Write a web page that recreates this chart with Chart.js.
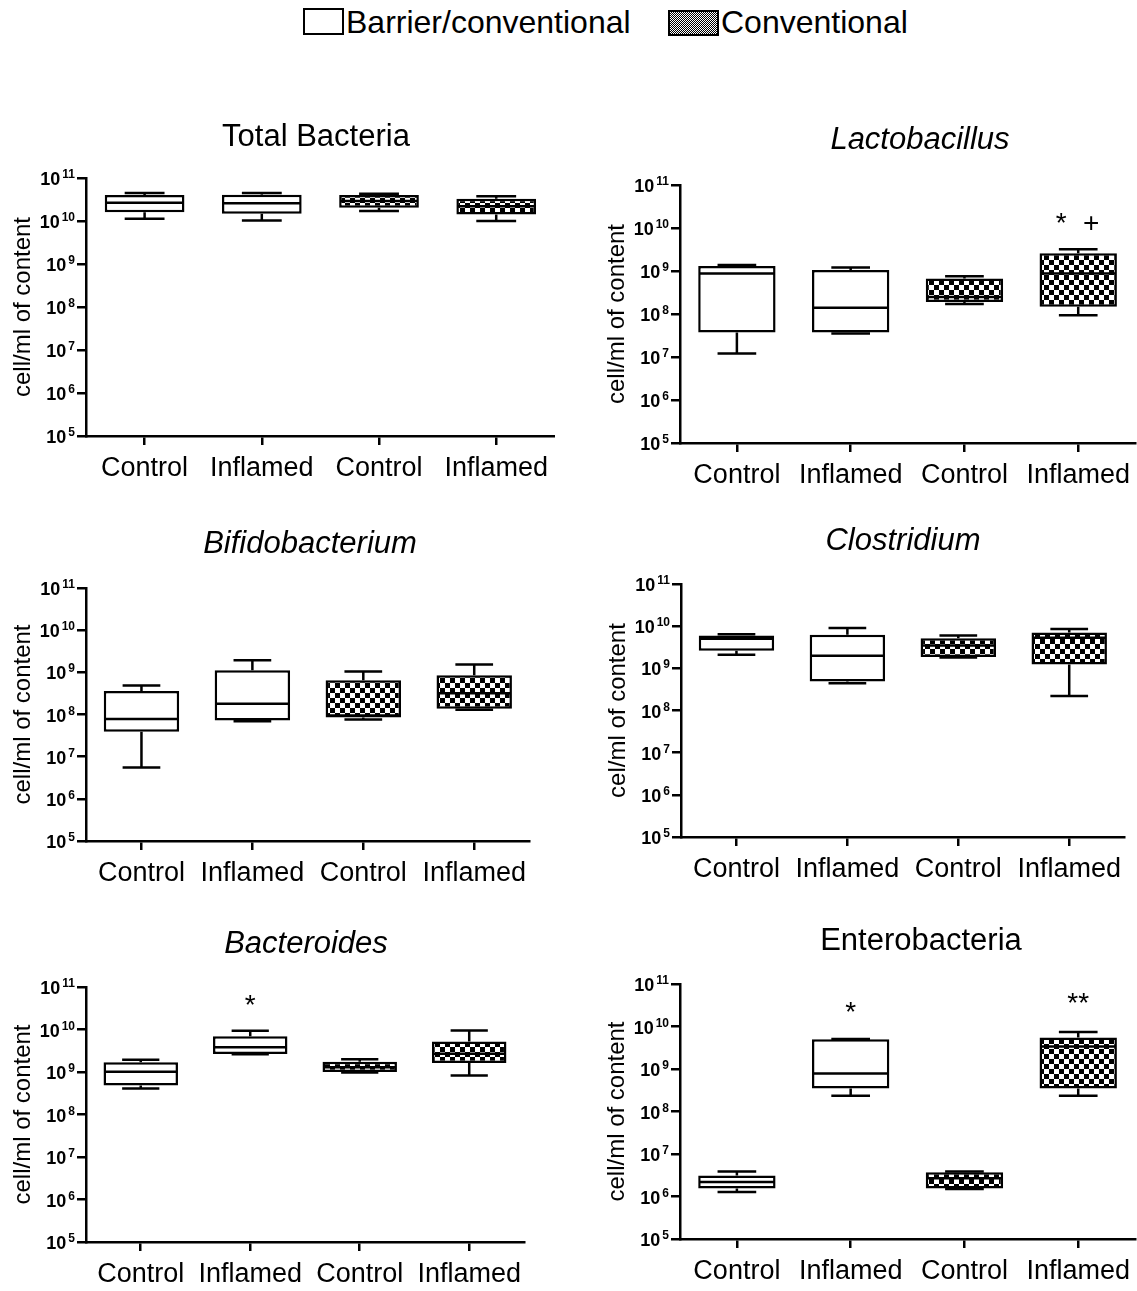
<!DOCTYPE html>
<html>
<head>
<meta charset="utf-8">
<title>Bacterial counts in colonic content</title>
<script src="https://cdn.jsdelivr.net/npm/chart.js@4.4.1/dist/chart.umd.min.js"></script>
<style>
  html, body { margin: 0; padding: 0; background: #fff; overflow: hidden; }
  #page { position: relative; width: 1137px; height: 1291px; overflow: hidden;
          font-family: "Liberation Sans", Arial, sans-serif; color: #000; }
  .panel { position: absolute; }
  .legend-box { position: absolute; box-sizing: border-box; border: 2px solid #000; background: #fff; }
  .legend-box.conv { background: repeating-conic-gradient(#000 0 25%, #fff 0 50%) 0 0 / 2px 2px; }
  .legend-text { position: absolute; font-size: 32px; line-height: 32px; white-space: nowrap; }
</style>
</head>
<body>
<div id="page">
  <div class="legend-box" style="left:303px; top:8px; width:41px; height:27px;"></div>
  <div class="legend-text" style="left:346px; top:6px;">Barrier/conventional</div>
  <div class="legend-box conv" style="left:668px; top:10px; width:51px; height:26px;"></div>
  <div class="legend-text" style="left:721px; top:6px;">Conventional</div>
</div>
<script>
// ---- shared axis content ----
const groupLabels = ['Control', 'Inflamed', 'Control', 'Inflamed'];
const yExponents = [5, 6, 7, 8, 9, 10, 11];
const yTitle = 'cell/ml of content';

// ---- Total Bacteria ----
const totalMin    = [1.13e10, 1.03e10, 1.7e10, 1.0e10];
const totalQ1     = [1.6e10, 1.48e10, 2.03e10, 1.42e10];
const totalMedian = [2.65e10, 2.6e10, 2.9e10, 2.2e10];
const totalQ3     = [4.0e10, 4.1e10, 4.0e10, 3.3e10];
const totalMax    = [4.5e10, 4.5e10, 4.3e10, 3.75e10];

// ---- Lactobacillus ----
const lactoMin    = [1.2e7, 3.5e7, 1.7e8, 9.3e7];
const lactoQ1     = [3.7e7, 3.7e7, 1.9e8, 1.48e8];
const lactoMedian = [8.8e8, 1.4e8, 2.5e8, 8.8e8];
const lactoQ3     = [1.3e9, 1.05e9, 6.7e8, 2.6e9];
const lactoMax    = [1.37e9, 1.2e9, 7.6e8, 3.2e9];

// ---- Bifidobacterium ----
const bifidoMin    = [5.5e6, 6.9e7, 7.6e7, 1.3e8];
const bifidoQ1     = [3.9e7, 7.2e7, 8.5e7, 1.36e8];
const bifidoMedian = [7.8e7, 1.8e8, 9.5e7, 3.2e8];
const bifidoQ3     = [3.6e8, 1.12e9, 6.5e8, 8.5e8];
const bifidoMax    = [4.9e8, 1.94e9, 1.05e9, 1.53e9];

// ---- Clostridium ----
const clostMin    = [2.1e9, 4.45e8, 1.8e9, 2.2e8];
const clostQ1     = [2.6e9, 4.9e8, 1.85e9, 1.23e9];
const clostMedian = [5.0e9, 2.0e9, 3.5e9, 5.3e9];
const clostQ3     = [6.0e9, 6.3e9, 5.2e9, 7.1e9];
const clostMax    = [6.4e9, 9.1e9, 6.0e9, 8.6e9];

// ---- Bacteroides ----
const bactMin    = [4.1e8, 2.6e9, 9.7e8, 8.3e8];
const bactQ1     = [4.8e8, 2.65e9, 1.0e9, 1.63e9];
const bactMedian = [1.02e9, 3.8e9, 1.3e9, 2.7e9];
const bactQ3     = [1.69e9, 6.9e9, 1.75e9, 5.2e9];
const bactMax    = [1.95e9, 9.4e9, 2.0e9, 9.5e9];

// ---- Enterobacteria ----
const enteroMin    = [1.28e6, 2.35e8, 1.5e6, 2.35e8];
const enteroQ1     = [1.55e6, 3.5e8, 1.55e6, 3.5e8];
const enteroMedian = [2.2e6, 7.8e8, 2.7e6, 3.4e9];
const enteroQ3     = [3.1e6, 5.0e9, 3.7e6, 5.5e9];
const enteroMax    = [3.9e6, 5.1e9, 3.9e6, 7.4e9];

// ---- significance marks: text, group index, height (data units), x shift ----
const lactoMarks  = [['*', 3, 1.2e10, -17], ['+', 3, 1.25e10, 13]];
const bactMarks   = [['*', 1, 3.6e10, 0]];
const enteroMarks = [['*', 1, 2.0e10, 0], ['**', 3, 3.4e10, 0]];

const FONT = '"Liberation Sans", Arial, sans-serif';

function checkerPattern(cell) {
  const c = document.createElement('canvas');
  c.width = c.height = cell * 2;
  const g = c.getContext('2d');
  g.fillStyle = '#fff'; g.fillRect(0, 0, cell * 2, cell * 2);
  g.fillStyle = '#000'; g.fillRect(0, 0, cell, cell); g.fillRect(cell, cell, cell, cell);
  return g.createPattern(c, 'repeat');
}

const LINE = 2.5;
const Y_AXIS_W = 86;

// whiskers, medians, power-of-ten tick labels, title and marks
const boxDecor = {
  id: 'boxDecor',
  afterDatasetsDraw(chart) {
    const { ctx } = chart;
    const y = chart.scales.y;
    const s = chart.data.datasets[0].stats;
    ctx.save();
    ctx.strokeStyle = '#000';
    ctx.lineWidth = LINE;
    chart.getDatasetMeta(0).data.forEach((bar, i) => {
      const half = bar.width / 2 - LINE / 2;
      const cap = bar.width * 0.25;
      const pMin = y.getPixelForValue(s.min[i]);
      const pMax = y.getPixelForValue(s.max[i]);
      const pQ1 = y.getPixelForValue(s.q1[i]);
      const pQ3 = y.getPixelForValue(s.q3[i]);
      const pMed = y.getPixelForValue(s.median[i]);
      ctx.beginPath();
      ctx.moveTo(bar.x - half, pMed); ctx.lineTo(bar.x + half, pMed);
      ctx.moveTo(bar.x, pQ3); ctx.lineTo(bar.x, pMax);
      ctx.moveTo(bar.x - cap, pMax); ctx.lineTo(bar.x + cap, pMax);
      ctx.moveTo(bar.x, pQ1); ctx.lineTo(bar.x, pMin);
      ctx.moveTo(bar.x - cap, pMin); ctx.lineTo(bar.x + cap, pMin);
      ctx.stroke();
    });
    ctx.restore();
  },
  afterDraw(chart) {
    const { ctx, chartArea } = chart;
    const y = chart.scales.y, x = chart.scales.x;
    const info = chart.data.datasets[0].panel;
    ctx.save();
    ctx.fillStyle = '#000';
    // y tick labels: "10" with a raised exponent
    const endX = chartArea.left - 11;
    yExponents.forEach(e => {
      const py = y.getPixelForValue(Math.pow(10, e));
      ctx.font = 'bold 12px ' + FONT;
      const ew = ctx.measureText(String(e)).width;
      ctx.textAlign = 'left'; ctx.textBaseline = 'alphabetic';
      ctx.fillText(String(e), endX - ew, py);
      ctx.font = 'bold 18px ' + FONT;
      ctx.textAlign = 'right';
      ctx.fillText('10', endX - ew - 2, py + 7);
    });
    // panel title
    ctx.font = (info.italic ? 'italic ' : '') + '31px ' + FONT;
    ctx.textAlign = 'center'; ctx.textBaseline = 'middle';
    ctx.fillText(info.title, info.titleX, info.titleY);
    // significance marks
    (info.marks || []).forEach(([t, idx, v, dx]) => {
      ctx.font = '28px ' + FONT;
      ctx.textAlign = 'center'; ctx.textBaseline = 'middle';
      ctx.fillText(t, x.getPixelForValue(idx) + dx, y.getPixelForValue(v));
    });
    ctx.restore();
  }
};

function buildPanel(p) {
  const left = p.axisX - Y_AXIS_W;
  const top = p.top - 80;
  const width = p.right - left;
  const height = p.bottom - top + 62;
  const wrap = document.createElement('div');
  wrap.className = 'panel';
  Object.assign(wrap.style, { left: left + 'px', top: top + 'px', width: width + 'px', height: height + 'px' });
  const cv = document.createElement('canvas');
  cv.width = width; cv.height = height;
  cv.style.width = width + 'px'; cv.style.height = height + 'px';
  wrap.appendChild(cv);
  document.getElementById('page').appendChild(wrap);

  const fills = ['#fff', '#fff', checkerPattern(5), checkerPattern(5)];

  new Chart(cv, {
    type: 'bar',
    data: {
      labels: groupLabels,
      datasets: [{
        data: p.q1.map((v, i) => [v, p.q3[i]]),
        backgroundColor: fills,
        borderColor: '#000',
        borderWidth: LINE,
        borderSkipped: false,
        categoryPercentage: 0.68,
        barPercentage: 1,
        stats: { min: p.min, q1: p.q1, median: p.median, q3: p.q3, max: p.max },
        panel: { title: p.title, italic: p.italic, titleX: p.titleX - left, titleY: p.titleY - top, marks: p.marks }
      }]
    },
    options: {
      responsive: false,
      devicePixelRatio: 1,
      animation: false,
      events: [],
      layout: { padding: { top: p.top - top, left: 0, right: 0, bottom: 0 } },
      plugins: { legend: { display: false }, tooltip: { enabled: false }, title: { display: false } },
      scales: {
        x: {
          type: 'category',
          offset: true,
          grid: { display: true, offset: false, drawOnChartArea: false, drawTicks: true, tickLength: 9, color: '#000', lineWidth: LINE },
          border: { display: true, color: '#000', width: LINE },
          ticks: { color: '#000', font: { family: FONT, size: 27 }, padding: 7, maxRotation: 0, autoSkip: false },
          afterFit(scale) { scale.height = 62; }
        },
        y: {
          type: 'logarithmic',
          min: 1e5,
          max: 1e11,
          afterBuildTicks(scale) { scale.ticks = yExponents.map(e => ({ value: Math.pow(10, e) })); },
          grid: { display: true, drawOnChartArea: false, drawTicks: true, tickLength: 9, color: '#000', lineWidth: LINE },
          border: { display: true, color: '#000', width: LINE },
          ticks: { display: false },
          title: { display: true, text: p.yTitle, color: '#000', font: { family: FONT, size: 24 }, padding: { top: 9.4, bottom: 0 } },
          afterFit(scale) { scale.width = Y_AXIS_W; }
        }
      }
    },
    plugins: [boxDecor]
  });
}

buildPanel({ title: 'Total Bacteria', italic: false, yTitle: yTitle, titleX: 316, titleY: 137,
  axisX: 86, top: 178, bottom: 436, right: 555,
  min: totalMin, q1: totalQ1, median: totalMedian, q3: totalQ3, max: totalMax });

buildPanel({ title: 'Lactobacillus', italic: true, yTitle: yTitle, titleX: 920, titleY: 140,
  axisX: 680, top: 185, bottom: 443, right: 1137, marks: lactoMarks,
  min: lactoMin, q1: lactoQ1, median: lactoMedian, q3: lactoQ3, max: lactoMax });

buildPanel({ title: 'Bifidobacterium', italic: true, yTitle: yTitle, titleX: 310, titleY: 544,
  axisX: 86, top: 588, bottom: 841, right: 533,
  min: bifidoMin, q1: bifidoQ1, median: bifidoMedian, q3: bifidoQ3, max: bifidoMax });

buildPanel({ title: 'Clostridium', italic: true, yTitle: 'cel/ml of content', titleX: 903, titleY: 541,
  axisX: 681, top: 584, bottom: 837, right: 1128,
  min: clostMin, q1: clostQ1, median: clostMedian, q3: clostQ3, max: clostMax });

buildPanel({ title: 'Bacteroides', italic: true, yTitle: yTitle, titleX: 306, titleY: 944,
  axisX: 86, top: 987, bottom: 1242, right: 528, marks: bactMarks,
  min: bactMin, q1: bactQ1, median: bactMedian, q3: bactQ3, max: bactMax });

buildPanel({ title: 'Enterobacteria', italic: false, yTitle: yTitle, titleX: 921, titleY: 941,
  axisX: 680, top: 984, bottom: 1239, right: 1137, marks: enteroMarks,
  min: enteroMin, q1: enteroQ1, median: enteroMedian, q3: enteroQ3, max: enteroMax });
</script>
</body>
</html>
